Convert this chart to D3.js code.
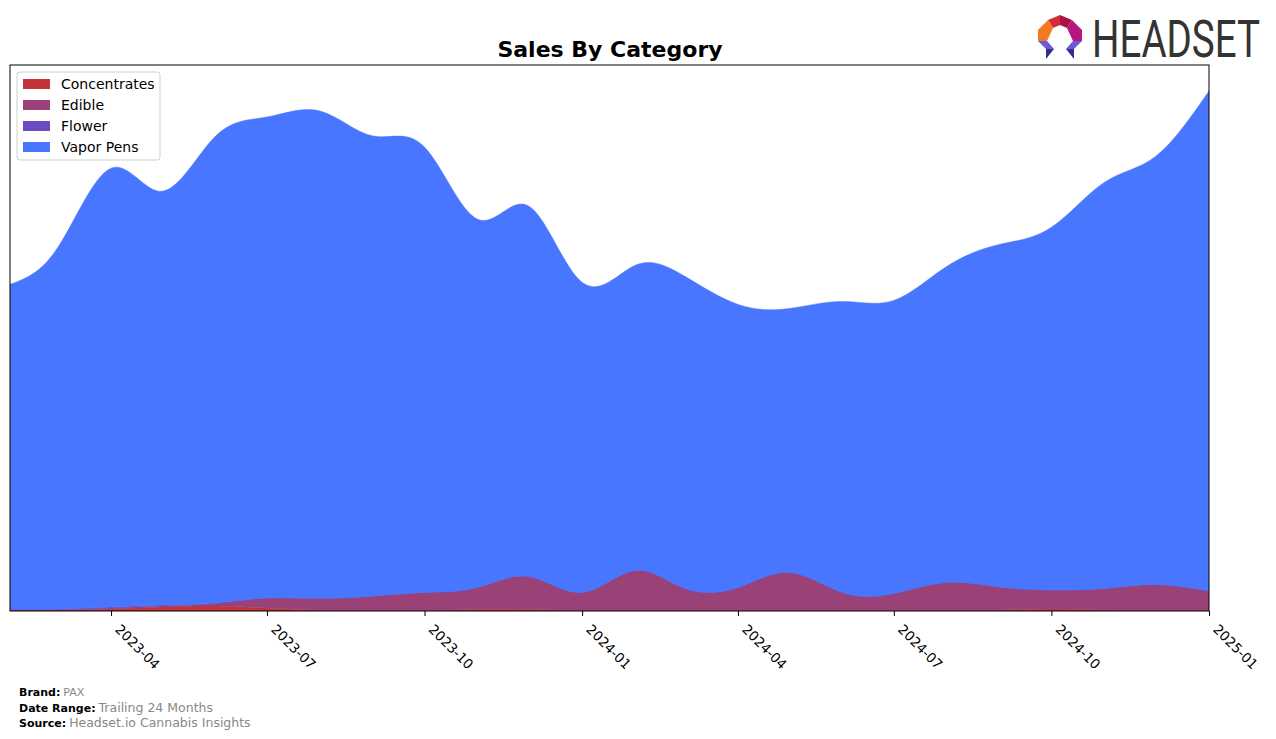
<!DOCTYPE html>
<html>
<head>
<meta charset="utf-8">
<script src="https://cdn.jsdelivr.net/npm/d3@7"></script>
<style>
  html, body { margin: 0; padding: 0; background: #fff; }
  svg { display: block; font-family: "DejaVu Sans", sans-serif; }
</style>
</head>
<body>
<svg id="chart" width="1276" height="739"></svg>
<script>
// ---- data (monthly, arbitrary sales units) ----
const months = ["2023-02","2023-03","2023-04","2023-05","2023-06","2023-07","2023-08","2023-09","2023-10","2023-11","2023-12","2024-01",
                "2024-02","2024-03","2024-04","2024-05","2024-06","2024-07","2024-08","2024-09","2024-10","2024-11","2024-12","2025-01"];
const categories = ["Concentrates", "Edible", "Flower", "Vapor Pens"];
const concentrates = [1, 1, 2, 4, 5, 3, 1, 0.5, 0.5, 1.5, 1.5, 0.5, 0.5, 0.5, 0.5, 0.5, 0.5, 0.5, 0.5, 1, 2, 1, 0.5, 0.5];
const edible       = [0.3, 0.5, 1, 1, 2.5, 10, 11.5, 14.5, 18, 22, 33, 18, 40, 22, 23, 38, 18, 17, 28, 23, 19, 21.5, 26, 19.5];
const flower       = [0.3, 0.5, 1, 1, 0.5, 0, 0, 0, 0, 0, 0, 0, 0, 0, 0, 0, 0, 0, 0, 0, 0, 0, 0, 0];
const totals       = [326, 363, 442, 419, 474, 493, 499, 474, 463, 391, 404, 328, 345, 334, 306, 302, 309, 310, 344, 366, 383, 428, 454, 519];
const vaporPens    = totals.map((t, i) => +(t - concentrates[i] - edible[i] - flower[i]).toFixed(1));
const tickLabels = ["2023-04","2023-07","2023-10","2024-01","2024-04","2024-07","2024-10","2025-01"];
const colors = ["#c1353a", "#9a4278", "#6a4bc3", "#4876ff"];

// ---- layout ----
const svg = d3.select("#chart");
const L = 10, R = 1209, T = 65, B = 611;
const parse = d3.timeParse("%Y-%m");
const dates = months.map(parse);
const rows = dates.map((d, i) => ({date: d, "Concentrates": concentrates[i], "Edible": edible[i], "Flower": flower[i], "Vapor Pens": vaporPens[i]}));

const x = d3.scaleTime().domain([dates[0], dates[dates.length - 1]]).range([L, R]);
const y = d3.scaleLinear().domain([0, d3.max(totals) * 1.05]).range([B, T]);

const stack = d3.stack().keys(categories);
const series = stack(rows);

const area = d3.area()
  .x(d => x(d.data.date))
  .y0(d => y(d[0]))
  .y1(d => y(d[1]))
  .curve(d3.curveNatural);

svg.append("defs").append("clipPath").attr("id", "clip")
  .append("rect").attr("x", L).attr("y", T).attr("width", R - L).attr("height", B - T);

svg.append("g").attr("clip-path", "url(#clip)")
  .selectAll("path").data(series).join("path")
  .attr("d", area)
  .attr("fill", (d, i) => colors[i])
  .attr("stroke", (d, i) => colors[i])
  .attr("stroke-width", 0.5);

// frame
svg.append("rect").attr("x", L).attr("y", T).attr("width", R - L).attr("height", B - T)
  .attr("fill", "none").attr("stroke", "#000").attr("stroke-width", 1);

// x axis
const tickDates = tickLabels.map(parse);
const xg = svg.append("g").attr("transform", `translate(0,${B})`)
  .call(d3.axisBottom(x).tickValues(tickDates).tickFormat(d3.timeFormat("%Y-%m")).tickSize(5).tickPadding(4));
xg.select(".domain").remove();
xg.selectAll("line").attr("stroke", "#000");
xg.selectAll("text")
  .attr("font-family", "DejaVu Sans, sans-serif")
  .attr("font-size", 13.5)
  .attr("fill", "#000")
  .attr("text-anchor", "start")
  .attr("dy", "0.2em")
  .attr("transform", "translate(11,11) rotate(45)");

// title
svg.append("text").attr("x", 610).attr("y", 57).attr("text-anchor", "middle")
  .attr("font-size", 22).attr("font-weight", "bold").attr("fill", "#000").text("Sales By Category");

// legend
const lg = svg.append("g").attr("transform", "translate(17,72)");
lg.append("rect").attr("width", 143).attr("height", 88).attr("rx", 3)
  .attr("fill", "#fff").attr("fill-opacity", 0.8).attr("stroke", "#d0d0d0");
categories.forEach((c, i) => {
  const gy = 12 + i * 21;
  lg.append("rect").attr("x", 6).attr("y", gy - 5).attr("width", 27).attr("height", 10).attr("fill", colors[i]);
  lg.append("text").attr("x", 44).attr("y", gy + 5).attr("font-size", 14).attr("fill", "#000").text(c);
});

// footer
const foot = [["Brand:", "PAX", 696, 11], ["Date Range:", "Trailing 24 Months", 712, 12.5], ["Source:", "Headset.io Cannabis Insights", 727, 12.5]];
foot.forEach(([k, v, yy, fs]) => {
  const t = svg.append("text").attr("x", 19).attr("y", yy).attr("font-size", 11);
  t.append("tspan").attr("font-weight", "bold").attr("fill", "#000").text(k);
  t.append("tspan").attr("fill", "#888").attr("font-size", fs).attr("dx", 3).text(v);
});

// logo
const logo = svg.append("g").attr("transform", "translate(1060,37)");
const polys = [
  {p: [[-12,-17],[0,-22],[0,-12],[-7,-9]], c: "#d42a3c"},
  {p: [[0,-22],[12,-17],[7,-9],[0,-12]], c: "#a8163f"},
  {p: [[12,-17],[22,-7],[22,4],[13,4],[7,-9]], c: "#b5177f"},
  {p: [[-12,-17],[-22,-7],[-22,4],[-13,4],[-7,-9]], c: "#f07a22"},
  {p: [[-22,4],[-13,4],[-6,12],[-14,12]], c: "#6d5ad6"},
  {p: [[-14,12],[-6,12],[-14,22]], c: "#2e2f8f"},
  {p: [[22,4],[13,4],[6,12],[14,12]], c: "#6d5ad6"},
  {p: [[14,12],[6,12],[14,22]], c: "#2e2f8f"}
];
polys.forEach(o => logo.append("polygon").attr("points", o.p.map(q => q.join(",")).join(" ")).attr("fill", o.c));
svg.append("text").attr("transform", "translate(1092,57) scale(1,1.3)")
  .attr("font-family", "Liberation Sans Narrow, Roboto, sans-serif")
  .attr("font-size", 40).attr("fill", "#333").attr("textLength", 168).attr("lengthAdjust", "spacingAndGlyphs").text("HEADSET");
</script>
</body>
</html>
